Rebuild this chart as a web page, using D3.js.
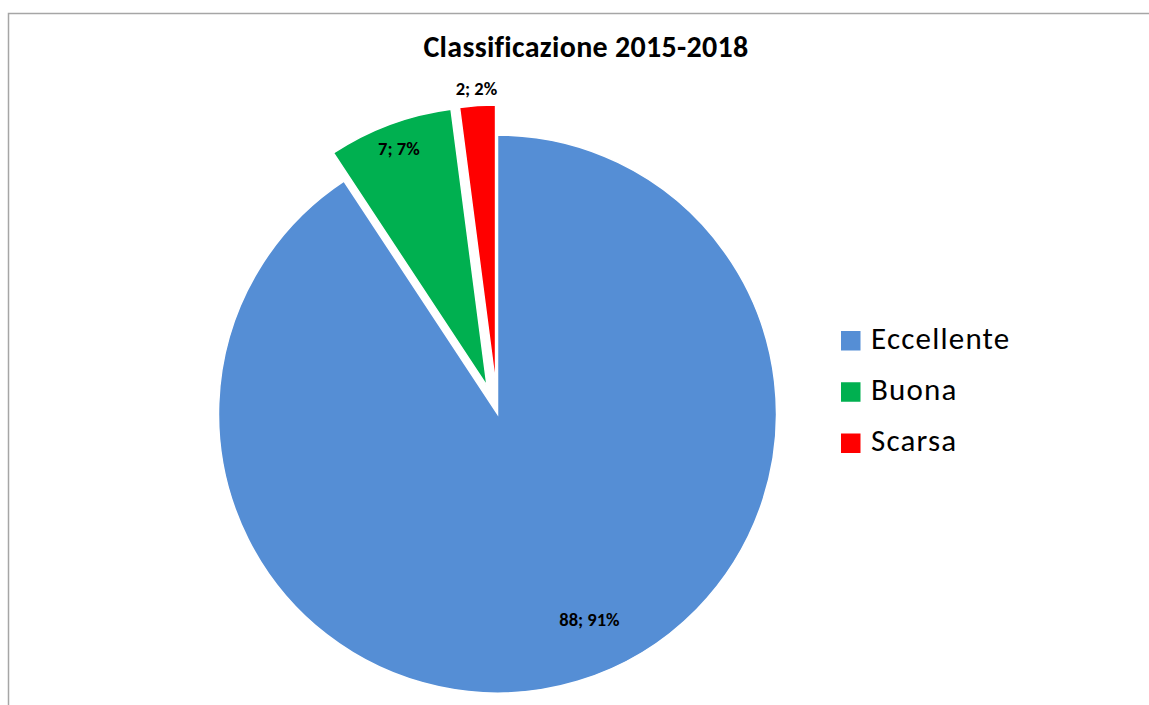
<!DOCTYPE html>
<html>
<head>
<meta charset="utf-8">
<script src="https://cdn.jsdelivr.net/npm/d3@7"></script>
<style>
  html, body { margin: 0; padding: 0; background: #fff; }
  svg { display: block; }
  text { font-family: Carlito, Calibri, Lato, sans-serif; }
</style>
</head>
<body>
<svg id="chart" width="1149" height="705"></svg>
<script>
// ---- data ----
const title = "Classificazione 2015-2018";
const categories = ["Eccellente", "Buona", "Scarsa"];
const values = [88, 7, 2];
const percentLabels = ["91%", "7%", "2%"];
const colors = ["#558ED5", "#00B050", "#FF0000"];
const exploded = [0, 30, 30];          // px offset of each slice
const labelRadius = [0.81, 0.906, 1.06]; // label distance (fraction of radius)
const labelAngleShift = [-7.3, 0, 0];   // degrees

// ---- layout ----
const W = 1149, H = 705;
const cx = 497.5, cy = 414, R = 279;
const svg = d3.select("#chart");

// frame
svg.append("rect")
  .attr("x", 8.5).attr("y", 13.5)
  .attr("width", W + 10).attr("height", H + 10)
  .attr("fill", "none").attr("stroke", "#a6a6a6").attr("stroke-width", 1.5);

// title
svg.append("text")
  .attr("x", 586).attr("y", 57)
  .attr("text-anchor", "middle")
  .attr("font-size", 30).attr("font-weight", "bold")
  .attr("letter-spacing", 0.3)
  .attr("fill", "#000")
  .text(title);

const pie = d3.pie().sort(null).value(d => d)(values);
const arc = d3.arc().innerRadius(0).outerRadius(R);

const g = svg.append("g").attr("transform", `translate(${cx},${cy})`);

const slices = g.selectAll("g.slice").data(pie).enter().append("g")
  .attr("class", "slice")
  .attr("transform", (d, i) => {
    const mid = (d.startAngle + d.endAngle) / 2;
    const off = exploded[i];
    return `translate(${off * Math.sin(mid)},${-off * Math.cos(mid)})`;
  });

slices.append("path")
  .attr("d", arc)
  .attr("fill", (d, i) => colors[i])
  .attr("stroke", "#fff")
  .attr("stroke-width", 1.5)
  .attr("stroke-linejoin", "miter");

slices.append("text")
  .attr("x", (d, i) => {
    const a = (d.startAngle + d.endAngle) / 2 + labelAngleShift[i] * Math.PI / 180;
    return labelRadius[i] * R * Math.sin(a);
  })
  .attr("y", (d, i) => {
    const a = (d.startAngle + d.endAngle) / 2 + labelAngleShift[i] * Math.PI / 180;
    return -labelRadius[i] * R * Math.cos(a);
  })
  .attr("dy", "0.32em")
  .attr("text-anchor", "middle")
  .attr("font-size", 18.5).attr("font-weight", "bold")
  .attr("fill", "#000")
  .text((d, i) => `${values[i]}; ${percentLabels[i]}`);

// legend
const legend = svg.append("g").attr("transform", "translate(841,0)");
const ly = d3.scalePoint().domain(categories).range([340.5, 443]);
const items = legend.selectAll("g").data(categories).enter().append("g")
  .attr("transform", d => `translate(0,${ly(d)})`);
items.append("rect")
  .attr("x", 0).attr("y", -9.5).attr("width", 19.5).attr("height", 19.5)
  .attr("fill", (d, i) => colors[i]);
items.append("text")
  .attr("x", 30).attr("y", 8)
  .attr("font-size", 31).attr("letter-spacing", 1.2).attr("fill", "#000")
  .text(d => d);
</script>
</body>
</html>
